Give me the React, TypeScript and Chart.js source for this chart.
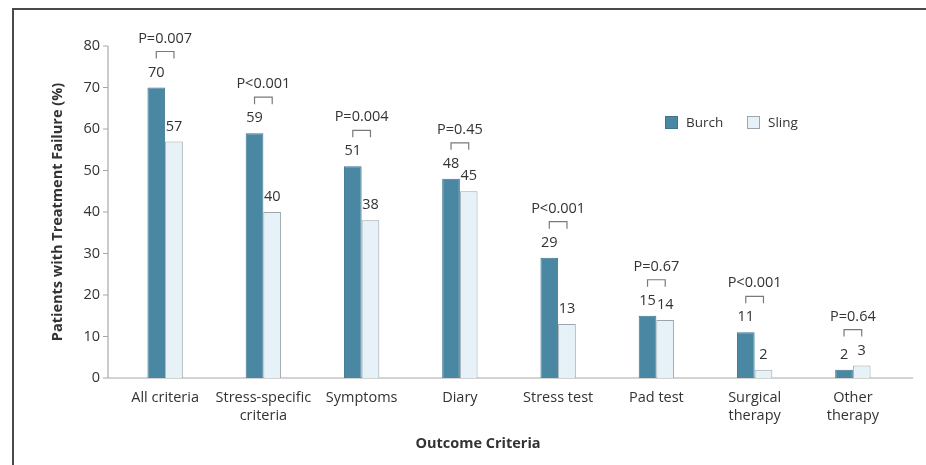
import React, { useEffect, useRef } from "react";
import { Chart, registerables } from "chart.js";

Chart.register(...registerables);

const categories: (string | string[])[] = [
  "All criteria",
  ["Stress-specific", "criteria"],
  "Symptoms",
  "Diary",
  "Stress test",
  "Pad test",
  ["Surgical", "therapy"],
  ["Other", "therapy"],
];
const burchValues = [70, 59, 51, 48, 29, 15, 11, 2];
const slingValues = [57, 40, 38, 45, 13, 14, 2, 3];
const pValues = ["P=0.007", "P<0.001", "P=0.004", "P=0.45", "P<0.001", "P=0.67", "P<0.001", "P=0.64"];
const yTicks = [0, 10, 20, 30, 40, 50, 60, 70, 80];

const FONT = "'Open Sans', Lato, sans-serif";
const TEXT = "#333333";
const BURCH = "#4a87a3";
const BURCH_BORDER = "#3d7590";
const SLING = "#e6f2f8";
const SLING_BORDER = "#9aa6ad";

const overlay = {
  id: "overlay",
  beforeDatasetsDraw(chart: any) {
    const ctx = chart.ctx;
    const ys = chart.scales.y;
    const ca = chart.chartArea;
    ctx.save();
    // frame
    ctx.strokeStyle = "#4a4a4a";
    ctx.lineWidth = 2;
    ctx.beginPath();
    ctx.moveTo(12, 9);
    ctx.lineTo(926, 9);
    ctx.moveTo(13, 8);
    ctx.lineTo(13, 465);
    ctx.stroke();
    // axes
    const axisX = ca.left - 8;
    const y0 = ys.getPixelForValue(0);
    ctx.strokeStyle = "#a8a8a8";
    ctx.lineWidth = 1.2;
    ctx.beginPath();
    ctx.moveTo(axisX, ys.getPixelForValue(yTicks[yTicks.length - 1]));
    ctx.lineTo(axisX, y0);
    ctx.lineTo(ca.right + 11, y0);
    yTicks.forEach((t) => {
      const y = ys.getPixelForValue(t);
      ctx.moveTo(axisX - 5, y);
      ctx.lineTo(axisX, y);
    });
    ctx.stroke();
    ctx.restore();
  },
  afterDatasetsDraw(chart: any) {
    const ctx = chart.ctx;
    const m0 = chart.getDatasetMeta(0);
    const m1 = chart.getDatasetMeta(1);
    ctx.save();
    ctx.fillStyle = TEXT;
    ctx.font = `14.5px ${FONT}`;
    ctx.textAlign = "center";
    ctx.textBaseline = "middle";
    burchValues.forEach((v, j) => {
      const b = m0.data[j];
      const s = m1.data[j];
      ctx.fillStyle = TEXT;
      ctx.fillText(String(v), b.x, b.y - 15);
      ctx.fillText(String(slingValues[j]), s.x, s.y - 15);
      const top = Math.min(b.y, s.y);
      // bracket
      ctx.strokeStyle = "#7a7a7a";
      ctx.lineWidth = 1.2;
      ctx.beginPath();
      ctx.moveTo(b.x, top - 29);
      ctx.lineTo(b.x, top - 36);
      ctx.lineTo(s.x, top - 36);
      ctx.lineTo(s.x, top - 29);
      ctx.stroke();
      ctx.fillText(pValues[j], (b.x + s.x) / 2, top - 49);
    });
    // legend
    const lx = 665;
    const ly = 116;
    ctx.fillStyle = BURCH;
    ctx.fillRect(lx, ly, 13, 13);
    ctx.strokeStyle = BURCH_BORDER;
    ctx.lineWidth = 1;
    ctx.strokeRect(lx + 0.5, ly + 0.5, 12, 12);
    ctx.fillStyle = SLING;
    ctx.fillRect(lx + 82, ly, 13, 13);
    ctx.strokeStyle = SLING_BORDER;
    ctx.strokeRect(lx + 82.5, ly + 0.5, 12, 12);
    ctx.fillStyle = TEXT;
    ctx.textAlign = "left";
    ctx.font = `13.5px ${FONT}`;
    ctx.fillText("Burch", lx + 21, ly + 7);
    ctx.fillText("Sling", lx + 103, ly + 7);
    // axis titles
    ctx.font = `bold 14.5px ${FONT}`;
    ctx.textAlign = "center";
    ctx.fillText("Outcome Criteria", 478, 444);
    ctx.translate(58, 212);
    ctx.rotate(-Math.PI / 2);
    ctx.fillText("Patients with Treatment Failure (%)", 0, 0);
    ctx.restore();
  },
};

export default function App() {
  const ref = useRef<HTMLCanvasElement>(null);
  useEffect(() => {
    if (!ref.current) return;
    const chart = new Chart(ref.current, {
      type: "bar",
      data: {
        labels: categories,
        datasets: [
          {
            label: "Burch",
            data: burchValues,
            backgroundColor: BURCH,
            borderColor: BURCH_BORDER,
            borderWidth: 1,
            categoryPercentage: 0.36,
            barPercentage: 1,
          },
          {
            label: "Sling",
            data: slingValues,
            backgroundColor: SLING,
            borderColor: SLING_BORDER,
            borderWidth: 1,
            categoryPercentage: 0.36,
            barPercentage: 1,
          },
        ],
      },
      options: {
        responsive: false,
        animation: false,
        layout: { padding: { top: 46, right: 24, left: 0, bottom: 0 } },
        plugins: {
          legend: { display: false },
          title: { display: false },
          tooltip: { enabled: false },
        },
        scales: {
          x: {
            grid: { display: false, drawTicks: false },
            border: { display: false },
            ticks: {
              color: TEXT,
              font: { family: FONT, size: 14.5, lineHeight: 1.3 },
              padding: 10,
              maxRotation: 0,
              autoSkip: false,
            },
            afterFit: (s: any) => {
              s.height = 87;
            },
          },
          y: {
            min: 0,
            max: 80,
            grid: { display: false, drawTicks: false },
            border: { display: false },
            ticks: {
              stepSize: 10,
              color: TEXT,
              font: { family: FONT, size: 14.5 },
              padding: 16,
            },
            afterFit: (s: any) => {
              s.width = 116;
            },
          },
        },
      },
      plugins: [overlay],
    });
    return () => chart.destroy();
  }, []);
  return (
    <div style={{ position: "fixed", left: 0, top: 0, width: 926, height: 465, background: "#fff" }}>
      <canvas ref={ref} width={926} height={465} />
    </div>
  );
}
